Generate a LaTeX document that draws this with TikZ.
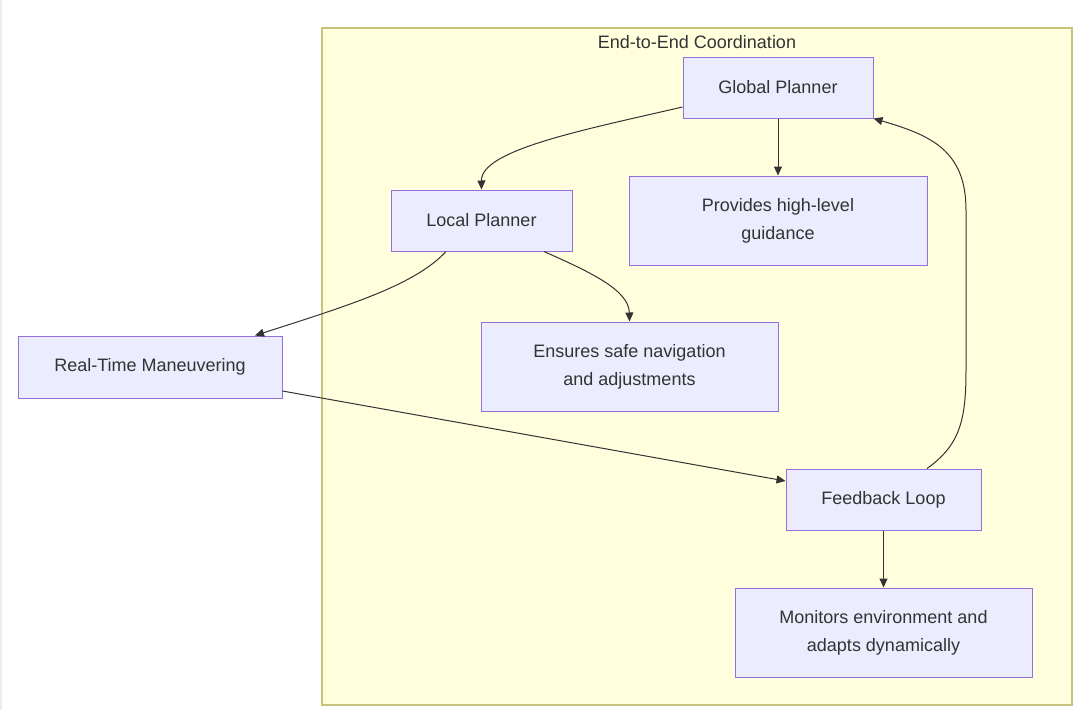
\documentclass[tikz,border=0pt]{standalone}
\usepackage{fontspec}
\setmainfont{Liberation Sans}
\usetikzlibrary{arrows.meta}
\definecolor{boxfill}{HTML}{ECECFF}
\definecolor{boxline}{HTML}{9370DB}
\definecolor{groupfill}{HTML}{FFFFDE}
\definecolor{groupline}{HTML}{C4C47A}
\definecolor{ink}{HTML}{333333}
\tikzset{
block/.style={
	draw=boxline, fill=boxfill, line width=1pt, text=ink, align=center,
	font=\fontsize{18}{28}\selectfont, inner sep=0pt},
flow/.style={
	draw=ink, line width=1pt, -{Triangle[length=9pt,width=8pt]}}
}

\begin{document}
\begin{tikzpicture}[x=1pt, y=-1pt]
	\useasboundingbox (0,0) rectangle (1077,710);
	\draw[gray!15, line width=1.5pt] (0.75,0) -- (0.75,710);
	\draw[draw=groupline, fill=groupfill, line width=1.2pt] (322,28) rectangle (1072,705);
	\node[text=ink, font=\fontsize{18}{22}\selectfont] (title) at (697,42) {End-to-End Coordination};
	\node[block, minimum width=190, minimum height=61] (global) at (778,87.5) {Global Planner};
	\node[block, minimum width=298, minimum height=89] (guide) at (778,220.5) {Provides high-level\\guidance};
	\node[block, minimum width=181, minimum height=61] (local) at (481.5,220.5) {Local Planner};
	\node[block, minimum width=297, minimum height=89] (safe) at (629.5,366.5) {Ensures safe navigation\\and adjustments};
	\node[block, minimum width=264, minimum height=62] (maneuver) at (150,367) {Real-Time Maneuvering};
	\node[block, minimum width=195, minimum height=61] (feedback) at (883.5,499.5) {Feedback Loop};
	\node[block, minimum width=297, minimum height=89] (adapt) at (883.5,632.5) {Monitors environment and\\adapts dynamically};
	\draw[flow] ([yshift=-19.5pt]global.west) .. controls (583,130) and (481,150) .. (local.north);
	\draw[flow] (global.south) -- (guide.north);
	\draw[flow] ([xshift=62.5pt]local.south) .. controls (590,272) and (629,290) .. (safe.north);
	\draw[flow] ([xshift=-35.5pt]local.south) .. controls (415,285) and (350,305) .. ([xshift=105pt]maneuver.north);
	\draw[flow] ([yshift=-24pt]maneuver.east) -- ([yshift=18.5pt]feedback.west);
	\draw[flow] (feedback.south) -- (adapt.north);
	\draw[flow] ([xshift=43.5pt]feedback.north) .. controls (960,445) and (966,420) .. (966,370)
		-- (966,210) .. controls (966,150) and (930,135) .. (global.south east);
\end{tikzpicture}
\end{document}
